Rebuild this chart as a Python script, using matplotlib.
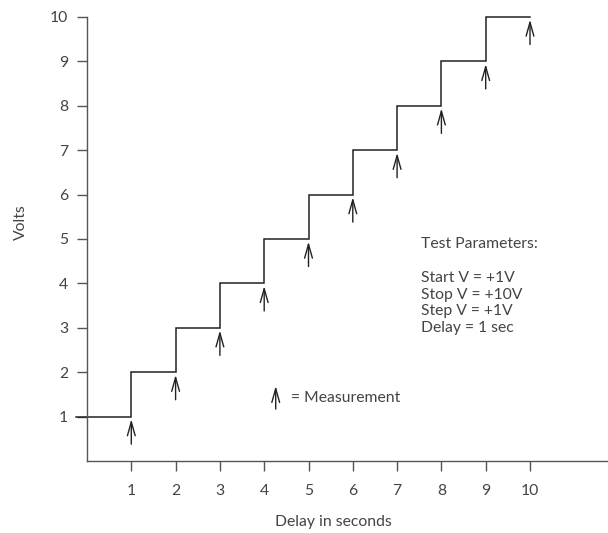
import numpy as np
import matplotlib
matplotlib.use("Agg")
import matplotlib.pyplot as plt

plt.rcParams['font.family'] = ['Lato', 'DejaVu Sans']

# staircase sweep data
delays = [1, 2, 3, 4, 5, 6, 7, 8, 9, 10]
volts = [1, 2, 3, 4, 5, 6, 7, 8, 9, 10]
x_ticks = [1, 2, 3, 4, 5, 6, 7, 8, 9, 10]
y_ticks = [1, 2, 3, 4, 5, 6, 7, 8, 9, 10]
params = ["Start V = +1V", "Stop V = +10V", "Step V = +1V", "Delay = 1 sec"]

txt = '#444444'
ln = '#222222'
fs = 11.3
arrow = dict(arrowstyle='->,head_length=1.0,head_width=0.28',
             color=ln, lw=1.0, shrinkA=0, shrinkB=0)

fig = plt.figure(figsize=(6.08, 5.33), dpi=100)
ax = fig.add_axes([87 / 608, 72 / 533, 1 - 87 / 608, 444 / 533])
ax.set_xlim(0, 521 / 44.3)
ax.set_ylim(0, 10)

# staircase: starts left of the axis at 1 V
sx = [-0.25]
sy = [volts[0]]
for i, d in enumerate(delays):
    sx.append(d)
    sy.append(volts[i])
    if i + 1 < len(volts):
        sx.append(d)
        sy.append(volts[i + 1])
ax.plot(sx, sy, color=ln, lw=1.1, clip_on=False, solid_joinstyle='miter')

# measurement arrows just below each step
for d, v in zip(delays, volts):
    ax.annotate('', xy=(d, v - 0.06), xytext=(d, v - 0.62), arrowprops=arrow)

for s in ['top', 'right']:
    ax.spines[s].set_visible(False)
for s in ['left', 'bottom']:
    ax.spines[s].set_color('#555555')
    ax.spines[s].set_linewidth(1.0)

ax.set_xticks(x_ticks)
ax.set_yticks(y_ticks)
ax.tick_params(direction='out', length=7.5, width=1.0, color='#555555',
               labelsize=fs, labelcolor=txt)
ax.tick_params(axis='x', pad=9)
ax.tick_params(axis='y', pad=6)

fig.text(21 / 608, 1 - 222 / 533, 'Volts', rotation=90, ha='center', va='center',
         fontsize=fs, color=txt)
fig.text(333 / 608, 1 - 522 / 533, 'Delay in seconds', ha='center', va='center',
         fontsize=fs, color=txt)

# legend for arrows
ax.annotate('', xy=(4.26, 1.69), xytext=(4.26, 1.17), arrowprops=arrow)
fig.text(291 / 608, 1 - 398 / 533, '= Measurement', ha='left', va='center',
         fontsize=fs, color=txt)

fig.text(421 / 608, 1 - 244 / 533, 'Test Parameters:', ha='left', va='center',
         fontsize=fs, color=txt)
for i, p in enumerate(params):
    fig.text(421 / 608, 1 - (278 + 16.7 * i) / 533, p, ha='left', va='center',
             fontsize=fs, color=txt)

fig.savefig('out.png', dpi=100)
